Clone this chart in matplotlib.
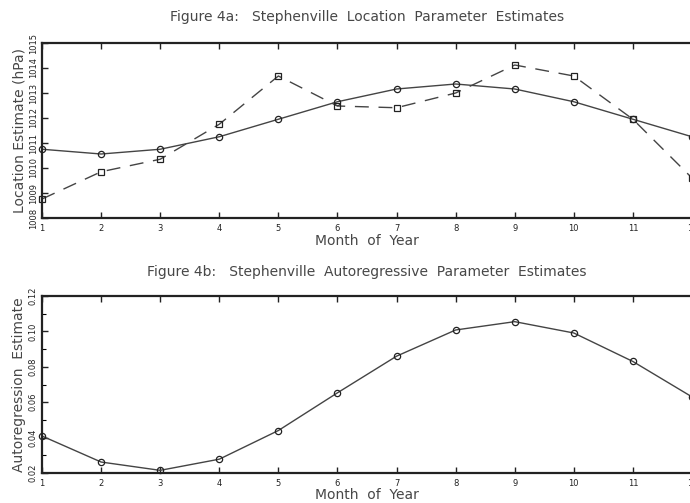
import numpy as np
import matplotlib.pyplot as plt

# Stephenville monthly parameter estimates
months = [1, 2, 3, 4, 5, 6, 7, 8, 9, 10, 11, 12]
loc_smooth = [1010.75, 1010.56, 1010.75, 1011.25, 1011.95, 1012.65,
              1013.16, 1013.36, 1013.16, 1012.65, 1011.95, 1011.25]
loc_raw = [1008.76, 1009.85, 1010.35, 1011.75, 1013.68, 1012.48,
           1012.41, 1013.00, 1014.12, 1013.68, 1011.95, 1009.6]
ar_est = [0.0409, 0.0262, 0.0215, 0.0278, 0.0440, 0.0653,
          0.0860, 0.1008, 0.1055, 0.0991, 0.0830, 0.0630]

loc_ticks = [1008, 1009, 1010, 1011, 1012, 1013, 1014, 1015]
ar_ticks = [0.02, 0.04, 0.06, 0.08, 0.10, 0.12]

W, H = 690, 503
fig = plt.figure(figsize=(W / 100, H / 100), dpi=100)
plt.rcParams['font.family'] = ['DejaVu Sans']

ink = '#474747'
line_col = '#444444'
label_font = dict(fontsize=10, color=ink)


def style_axes(ax, xlab_y):
    for s in ax.spines.values():
        s.set_linewidth(1.6)
        s.set_color('#222222')
    ax.set_xlim(1, 12)
    ax.set_xticks(months)
    ax.tick_params(axis='x', direction='in', top=True, length=4, width=1,
                   labelsize=6, colors='#222222', pad=4)
    ax.tick_params(axis='y', direction='in', length=4, width=1,
                   labelsize=6, colors='#222222', pad=3)
    for lab in ax.get_yticklabels():
        lab.set_rotation(90)
        lab.set_va('center')
    ax.set_xlabel('Month  of  Year', va='center', **label_font)
    ax.xaxis.set_label_coords(0.5, xlab_y)


# Figure 4a: location parameter
ax1 = fig.add_axes([42 / W, 1 - 218 / H, 650 / W, 175 / H])
ax1.plot(months, loc_smooth, '-', color=line_col, lw=1.0, marker='o',
         ms=4.5, mfc='none', mec='#222222', mew=0.9, clip_on=False)
ax1.plot(months, loc_raw, color=line_col, lw=1.0, ls=(0, (10, 7)),
         marker='s', ms=4.5, mfc='none', mec='#222222', mew=0.9, clip_on=False)
ax1.set_ylim(1008, 1015)
ax1.set_yticks(loc_ticks)
ax1.set_yticklabels([str(t) for t in loc_ticks])
style_axes(ax1, -23 / 175)
ax1.set_ylabel('Location Estimate (hPa)', labelpad=2, **label_font)
fig.text(367 / W, 1 - 17 / H,
         'Figure 4a:   Stephenville  Location  Parameter  Estimates',
         ha='center', va='center', fontsize=10, color=ink)

# Figure 4b: autoregressive parameter
ax2 = fig.add_axes([42 / W, 1 - 473 / H, 650 / W, 177 / H])
ax2.plot(months, ar_est, '-', color=line_col, lw=1.0, marker='o',
         ms=4.5, mfc='none', mec='#222222', mew=0.9, clip_on=False)
ax2.set_ylim(0.02, 0.12)
ax2.set_yticks(ar_ticks)
ax2.set_yticklabels([f'{t:.2f}' for t in ar_ticks])
ax2.set_yticks(np.arange(0.03, 0.12, 0.02), minor=True)
ax2.tick_params(axis='y', which='minor', direction='in', length=3, width=0.8)
style_axes(ax2, -22 / 177)
ax2.set_ylabel('Autoregression  Estimate', labelpad=2, **label_font)
fig.text(367 / W, 1 - 272 / H,
         'Figure 4b:   Stephenville  Autoregressive  Parameter  Estimates',
         ha='center', va='center', fontsize=10, color=ink)

fig.savefig('out.png', dpi=100, facecolor='white')
